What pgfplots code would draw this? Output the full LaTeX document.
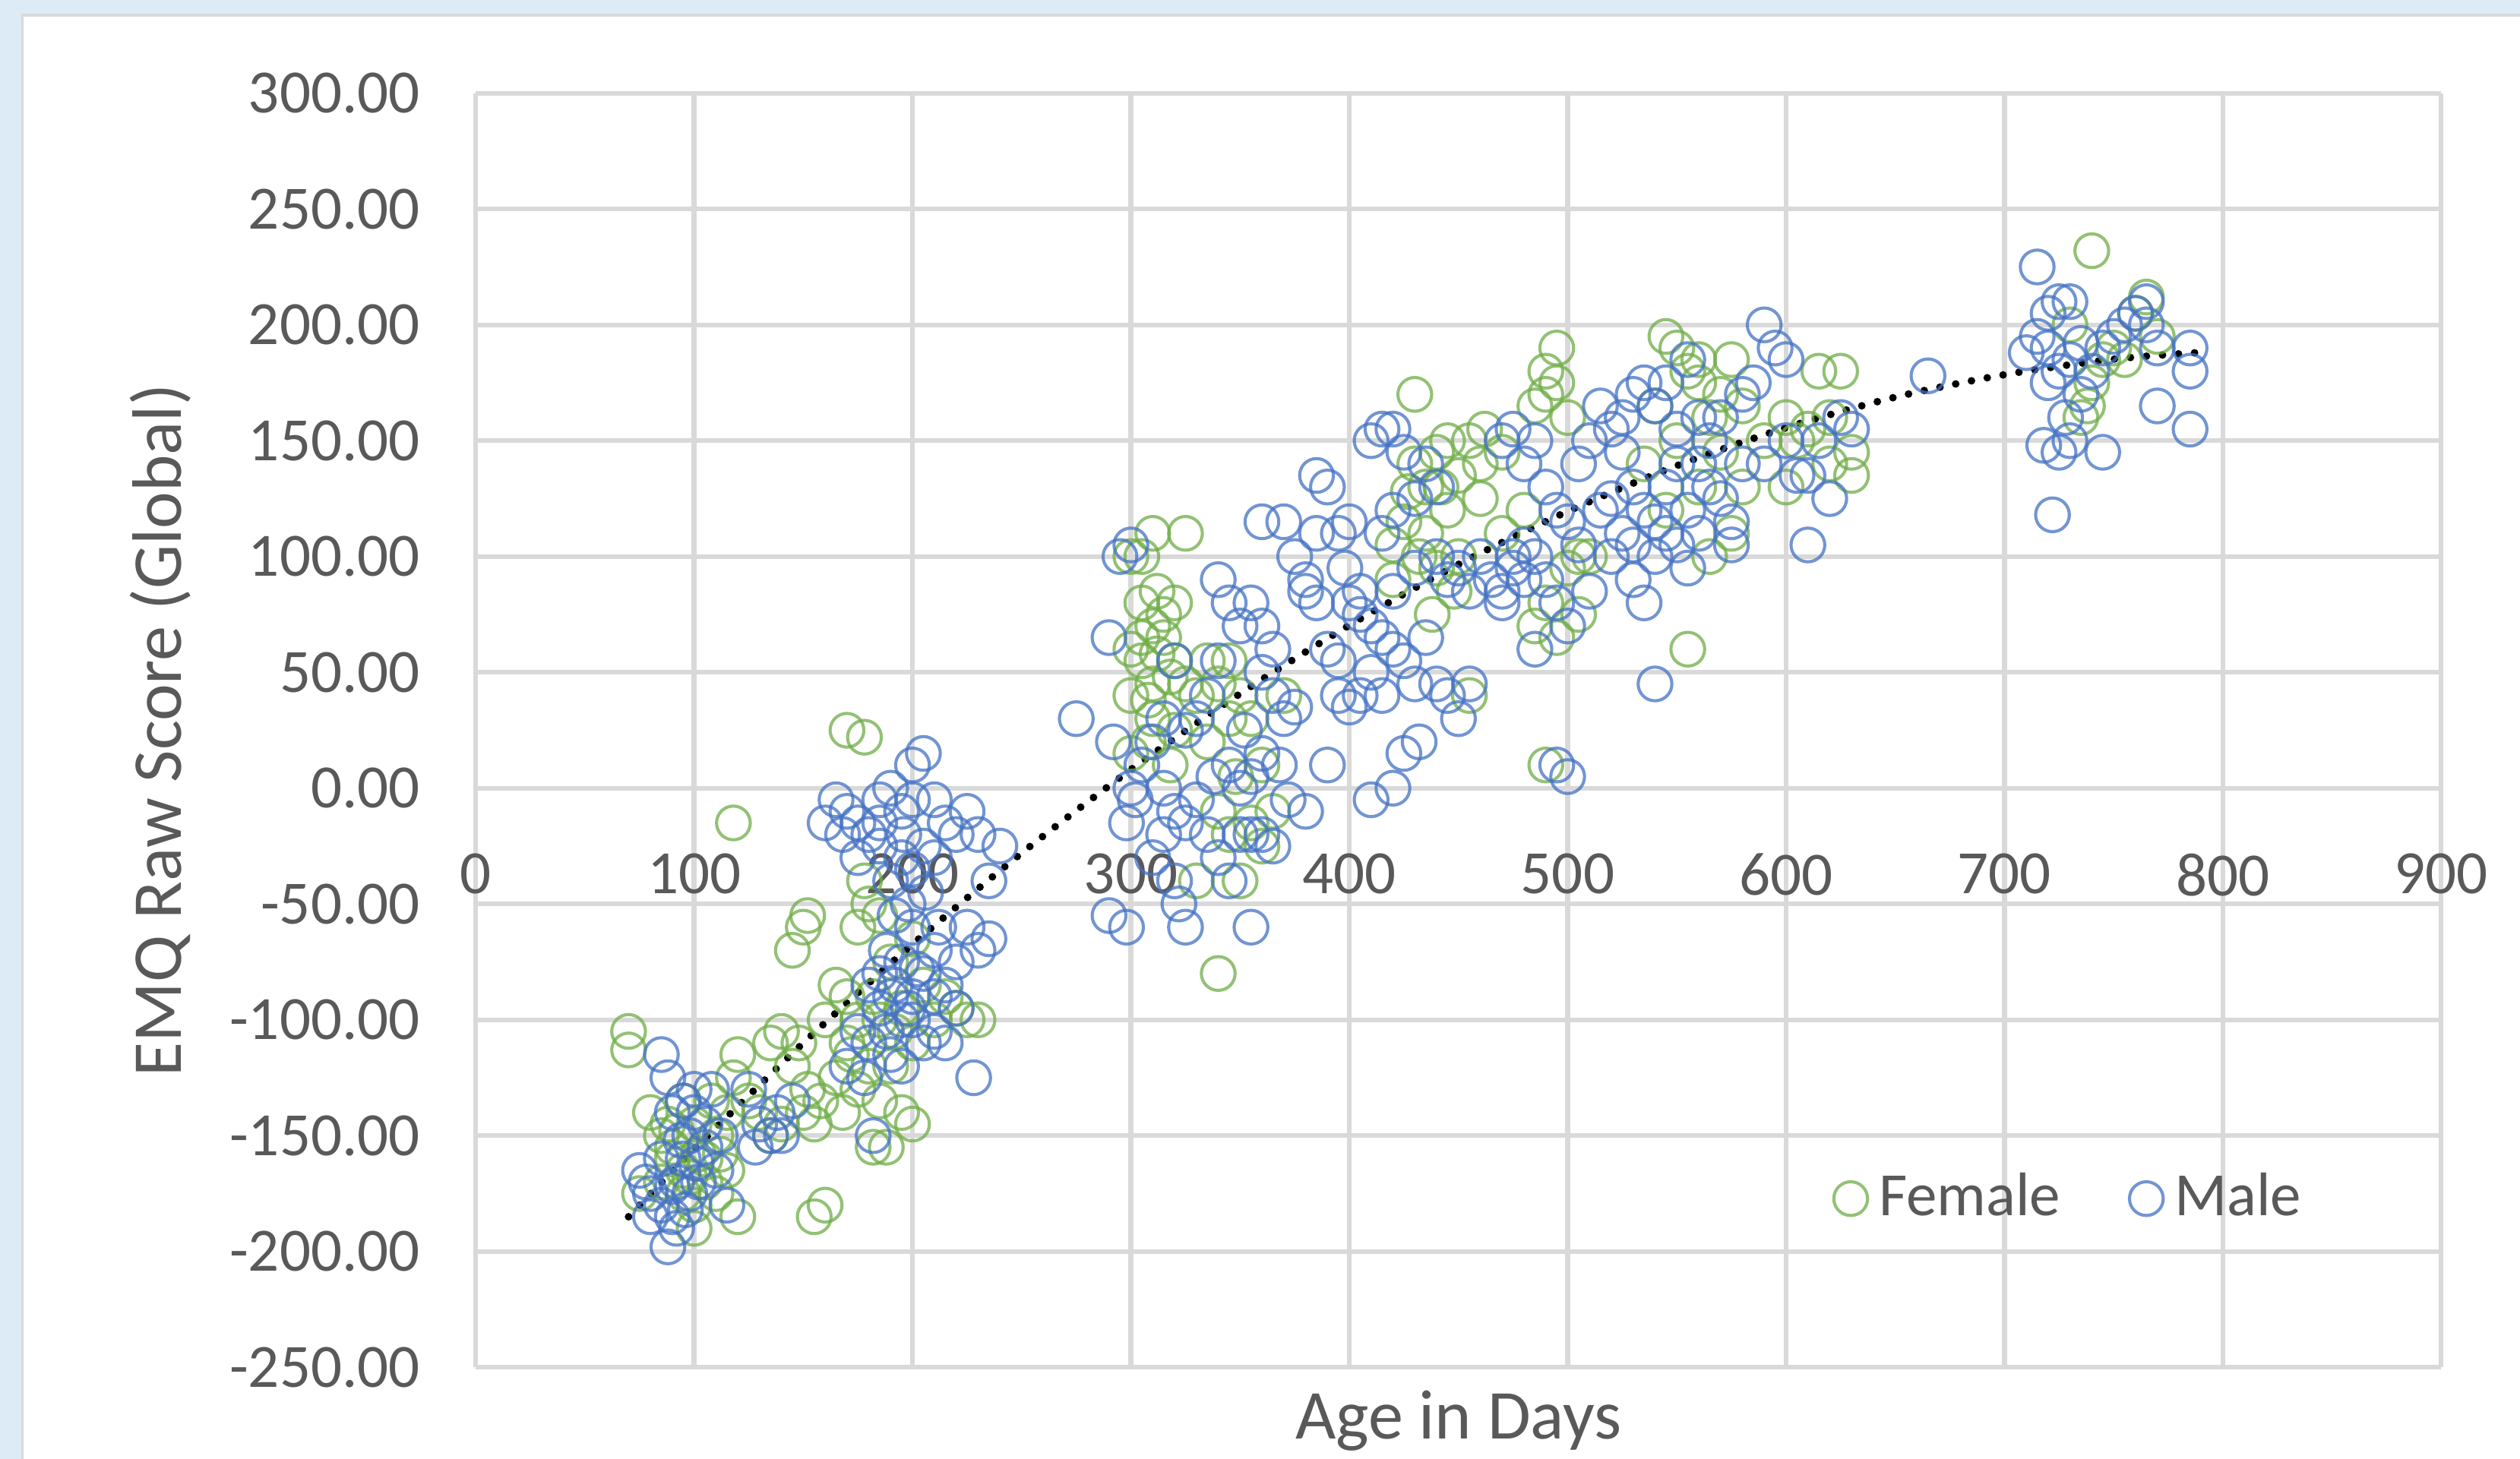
\documentclass[border=0pt]{standalone}
\usepackage{pgfplots}
\pgfplotsset{compat=1.18}
\usepackage{fontspec}
\setmainfont{Carlito}
\definecolor{bgblue}{RGB}{221,235,247}
\definecolor{gridgray}{RGB}{217,217,217}
\definecolor{txtgray}{RGB}{89,89,89}
\definecolor{fgreen}{RGB}{112,173,71}
\definecolor{mblue}{RGB}{68,114,196}
\begin{document}
\begin{tikzpicture}
\useasboundingbox (0,0) rectangle (156.8mm,90.8mm);
\fill[bgblue] (0,0) rectangle (156.8mm,90.8mm);
\fill[white] (1.4mm,0) rectangle (156.8mm,89.85mm);
\draw[gridgray,line width=0.5pt] (1.4mm,-1mm) -- (1.4mm,89.85mm) -- (157mm,89.85mm);
\begin{axis}[
  at={(29.6mm,5.7mm)}, anchor=south west,
  scale only axis, width=122.3mm, height=79.3mm,
  xmin=0, xmax=900, ymin=-250, ymax=300,
  xtick={0,100,...,900}, ytick={-250,-200,...,300},
  axis line style={draw=none},
  major tick length=0pt,
  grid=major,
  grid style={gridgray, line width=0.85pt},
  /pgf/number format/assume math mode=true,
  yticklabel={\pgfmathprintnumber[fixed,fixed zerofill,precision=2]{\tick}},
  xticklabel style={font=\fontsize{10.9}{13}\selectfont, text=txtgray, anchor=north, inner sep=0pt, yshift=32.05mm},
  yticklabel style={font=\fontsize{10.9}{13}\selectfont, text=txtgray, anchor=east, inner sep=0pt, xshift=-3.4mm},
  xlabel={Age in Days},
  ylabel={EMQ Raw Score (Global)},
  xlabel style={font=\fontsize{12.4}{14}\selectfont, text=txtgray, at={(axis description cs:0.5,0)}, anchor=north, inner sep=0pt, yshift=-1.4mm},
  ylabel style={font=\fontsize{12.4}{14}\selectfont, text=txtgray, at={(axis description cs:-0.1603,0.5)}, anchor=center, inner sep=0pt},
  legend style={draw=none, fill=none, at={(0.8128,0.1324)}, anchor=center, font=\fontsize{10.9}{13}\selectfont, text=txtgray, legend columns=2, /tikz/every even column/.append style={column sep=3.6mm}, legend cell align=left},
  legend image code/.code={\draw[#1, mark size=1.05mm] plot coordinates {(0mm,0mm)};},
  clip=false,
]
\addplot[only marks, mark=o, mark size=1.05mm, draw=fgreen, draw opacity=0.75, mark options={line width=0.55pt}] coordinates {
(70,-105) (70,-113) (80,-140) (85,-150) (90,-160) (95,-175) (100,-180) (105,-170) (110,-150) (115,-140) (120,-185) (120,-115) (100,-145) (95,-135) (90,-155) (85,-170) (105,-160) (110,-175) (75,-175) (115,-165) (100,-190) (95,-165) (88,-145) (108,-135) (118,-125) (92,-148) (102,-158) (98,-168) (112,-158)
(118,-15) (125,-135) (130,-140) (135,-150) (140,-105) (145,-120) (148,-110) (150,-140) (152,-130) (155,-145) (155,-185) (160,-180) (150,-60) (152,-55) (145,-70) (158,-135) (140,-145) (135,-110)
(170,25) (178,22) (165,-85) (170,-90) (175,-100) (180,-120) (185,-135) (182,-155) (188,-155) (195,-140) (200,-145) (175,-60) (180,-50) (178,-40) (185,-55) (190,-75) (195,-95) (200,-110) (205,-85) (210,-100) (220,-95) (225,-100) (230,-100) (190,-120) (170,-110) (160,-100) (165,-125) (175,-130) (185,-100) (200,-65) (215,-90) (168,-140) (172,-115) (182,-90) (192,-105)
(310,110) (305,100) (325,110) (300,100) (305,80) (310,70) (315,65) (305,55) (310,45) (300,40) (310,30) (320,55) (325,45) (330,40) (315,75) (320,80) (335,55) (340,45) (345,55) (350,40) (355,30) (360,10) (340,-10) (345,-20) (350,-40) (340,-80) (330,-40) (320,25) (300,60) (312,85) (308,20) (318,10) (355,-15) (360,-25) (348,5) (365,-10) (370,40) (345,30) (335,20) (300,15) (305,65) (312,58) (318,48) (308,38)
(430,170) (430,140) (435,130) (440,145) (445,150) (445,120) (450,135) (455,150) (460,140) (450,100) (440,95) (435,110) (425,115) (420,105) (460,125) (470,110) (470,145) (462,155) (455,40) (448,85) (438,75) (420,90) (432,100) (442,130) (427,128)
(490,180) (495,190) (490,170) (495,175) (485,165) (500,160) (505,100) (500,95) (490,80) (485,70) (495,65) (490,10) (480,120) (510,100) (505,75) (545,195) (550,190) (555,180) (560,185) (555,60) (560,175) (565,160) (570,170) (575,185) (570,145) (580,165) (590,150) (600,160) (605,150) (610,155) (615,180) (625,180) (630,135) (620,140) (630,145) (560,130) (550,150) (540,165) (545,120) (535,140) (600,130) (580,130) (565,100) (620,160) (575,110)
(740,232) (765,212) (760,205) (740,175) (738,165) (745,185) (730,200) (755,185) (750,190) (735,160) (770,195)
};
\addlegendentry{Female}
\addplot[only marks, mark=o, mark size=1.05mm, draw=mblue, draw opacity=0.75, mark options={line width=0.55pt}] coordinates {
(75,-165) (80,-175) (85,-180) (90,-185) (88,-198) (92,-170) (95,-160) (98,-150) (100,-140) (100,-130) (95,-135) (105,-155) (102,-170) (90,-140) (85,-115) (80,-185) (110,-165) (115,-180) (92,-190) (98,-175) (105,-145) (85,-160) (78,-170) (108,-130) (112,-150) (96,-182) (88,-125) (94,-152) (101,-162) (90,-172)
(125,-130) (130,-145) (135,-150) (140,-150) (128,-155) (138,-140) (145,-135)
(165,-5) (170,-10) (175,-15) (180,-20) (185,-5) (190,0) (195,-10) (200,10) (205,15) (210,-5) (215,-15) (220,-20) (185,-25) (195,-30) (205,-25) (200,-35) (210,-30) (175,-30) (190,-40) (225,-10) (230,-20) (235,-40) (240,-25) (235,-65) (230,-70) (225,-60) (228,-125) (210,-70) (215,-85) (200,-60) (205,-80) (195,-75) (190,-90) (185,-95) (180,-110) (175,-105) (195,-100) (200,-100) (205,-110) (210,-105) (190,-115) (185,-80) (180,-85) (200,-90) (210,-90) (220,-95) (215,-110) (195,-120) (182,-150) (170,-120) (178,-125) (188,-70) (198,-50) (192,-55) (206,-45) (212,-60) (220,-75) (160,-15) (168,-20) (185,-15) (196,-20) (200,-5) (192,-85) (198,-95) (188,-105) (202,-78)
(275,30) (290,65) (295,100) (300,105) (292,20) (298,-15) (290,-55) (298,-60) (300,0) (305,10) (310,20) (315,0) (320,-10) (325,-15) (330,-5) (320,-40) (325,-60) (322,-50) (355,-60) (340,-30) (345,-40) (350,-20) (335,-20) (345,10) (350,0) (355,5) (360,-20) (365,-25) (360,15) (330,30) (335,40) (340,55) (320,55) (315,30) (325,25) (340,90) (345,80) (350,70) (355,80) (360,70) (365,60) (360,50) (365,40) (370,30) (360,115) (370,115) (375,100) (380,90) (375,35) (380,-10) (355,-20) (310,-30) (302,-5) (315,-20) (338,5) (352,25) (368,10) (372,-5)
(385,135) (390,130) (400,115) (395,110) (410,150) (415,155) (420,155) (425,145) (420,120) (415,110) (430,125) (435,140) (440,130) (385,80) (380,85) (390,60) (395,55) (400,80) (405,85) (410,70) (415,65) (420,60) (425,55) (430,45) (440,45) (445,40) (450,30) (455,45) (395,40) (400,35) (405,40) (410,50) (390,10) (410,-5) (420,0) (425,15) (432,20) (420,85) (430,95) (440,100) (450,95) (455,85) (460,100) (465,90) (470,85) (475,100) (480,105) (385,110) (435,65) (415,40) (405,75) (398,95) (445,90)
(470,150) (475,155) (480,140) (485,150) (490,130) (495,120) (500,115) (505,140) (510,150) (515,165) (520,155) (525,160) (485,100) (490,90) (495,80) (500,70) (505,105) (510,85) (515,120) (520,125) (500,5) (495,10) (480,90) (475,95) (470,80) (485,60) (530,170) (535,175) (540,165) (545,175) (550,155) (555,185) (560,160) (530,130) (535,120) (540,115) (545,130) (550,140) (555,120) (560,110) (565,130) (570,125) (575,115) (530,90) (535,80) (540,45) (530,105) (540,100) (545,110) (550,105) (555,95) (560,140) (565,150) (570,160) (580,170) (585,175) (590,200) (595,190) (590,140) (600,185) (605,135) (610,135) (615,150) (620,125) (610,105) (600,150) (575,105) (580,140) (625,160) (630,155) (520,100) (525,145) (525,110) (665,178)
(715,225) (720,205) (725,210) (730,210) (715,195) (720,190) (710,188) (725,180) (730,185) (720,175) (735,170) (740,180) (745,190) (750,195) (755,200) (760,205) (765,200) (770,190) (785,190) (785,180) (770,165) (785,155) (745,145) (722,118) (730,150) (725,145) (718,148) (735,192) (728,160) (765,210)
};
\addlegendentry{Male}
\addplot[forget plot, black, line width=1.35pt, line cap=round, dash pattern=on 0pt off 1.0mm, smooth] coordinates {
(70,-185) (100,-155.9) (150,-110) (200,-67.4) (250,-28) (300,8) (350,40.8) (400,70.3) (450,96.6) (500,119.5) (550,139.2) (600,155.6) (650,168.8) (700,178.5) (750,185.2) (790,188.1)
};
\end{axis}
\end{tikzpicture}
\end{document}
